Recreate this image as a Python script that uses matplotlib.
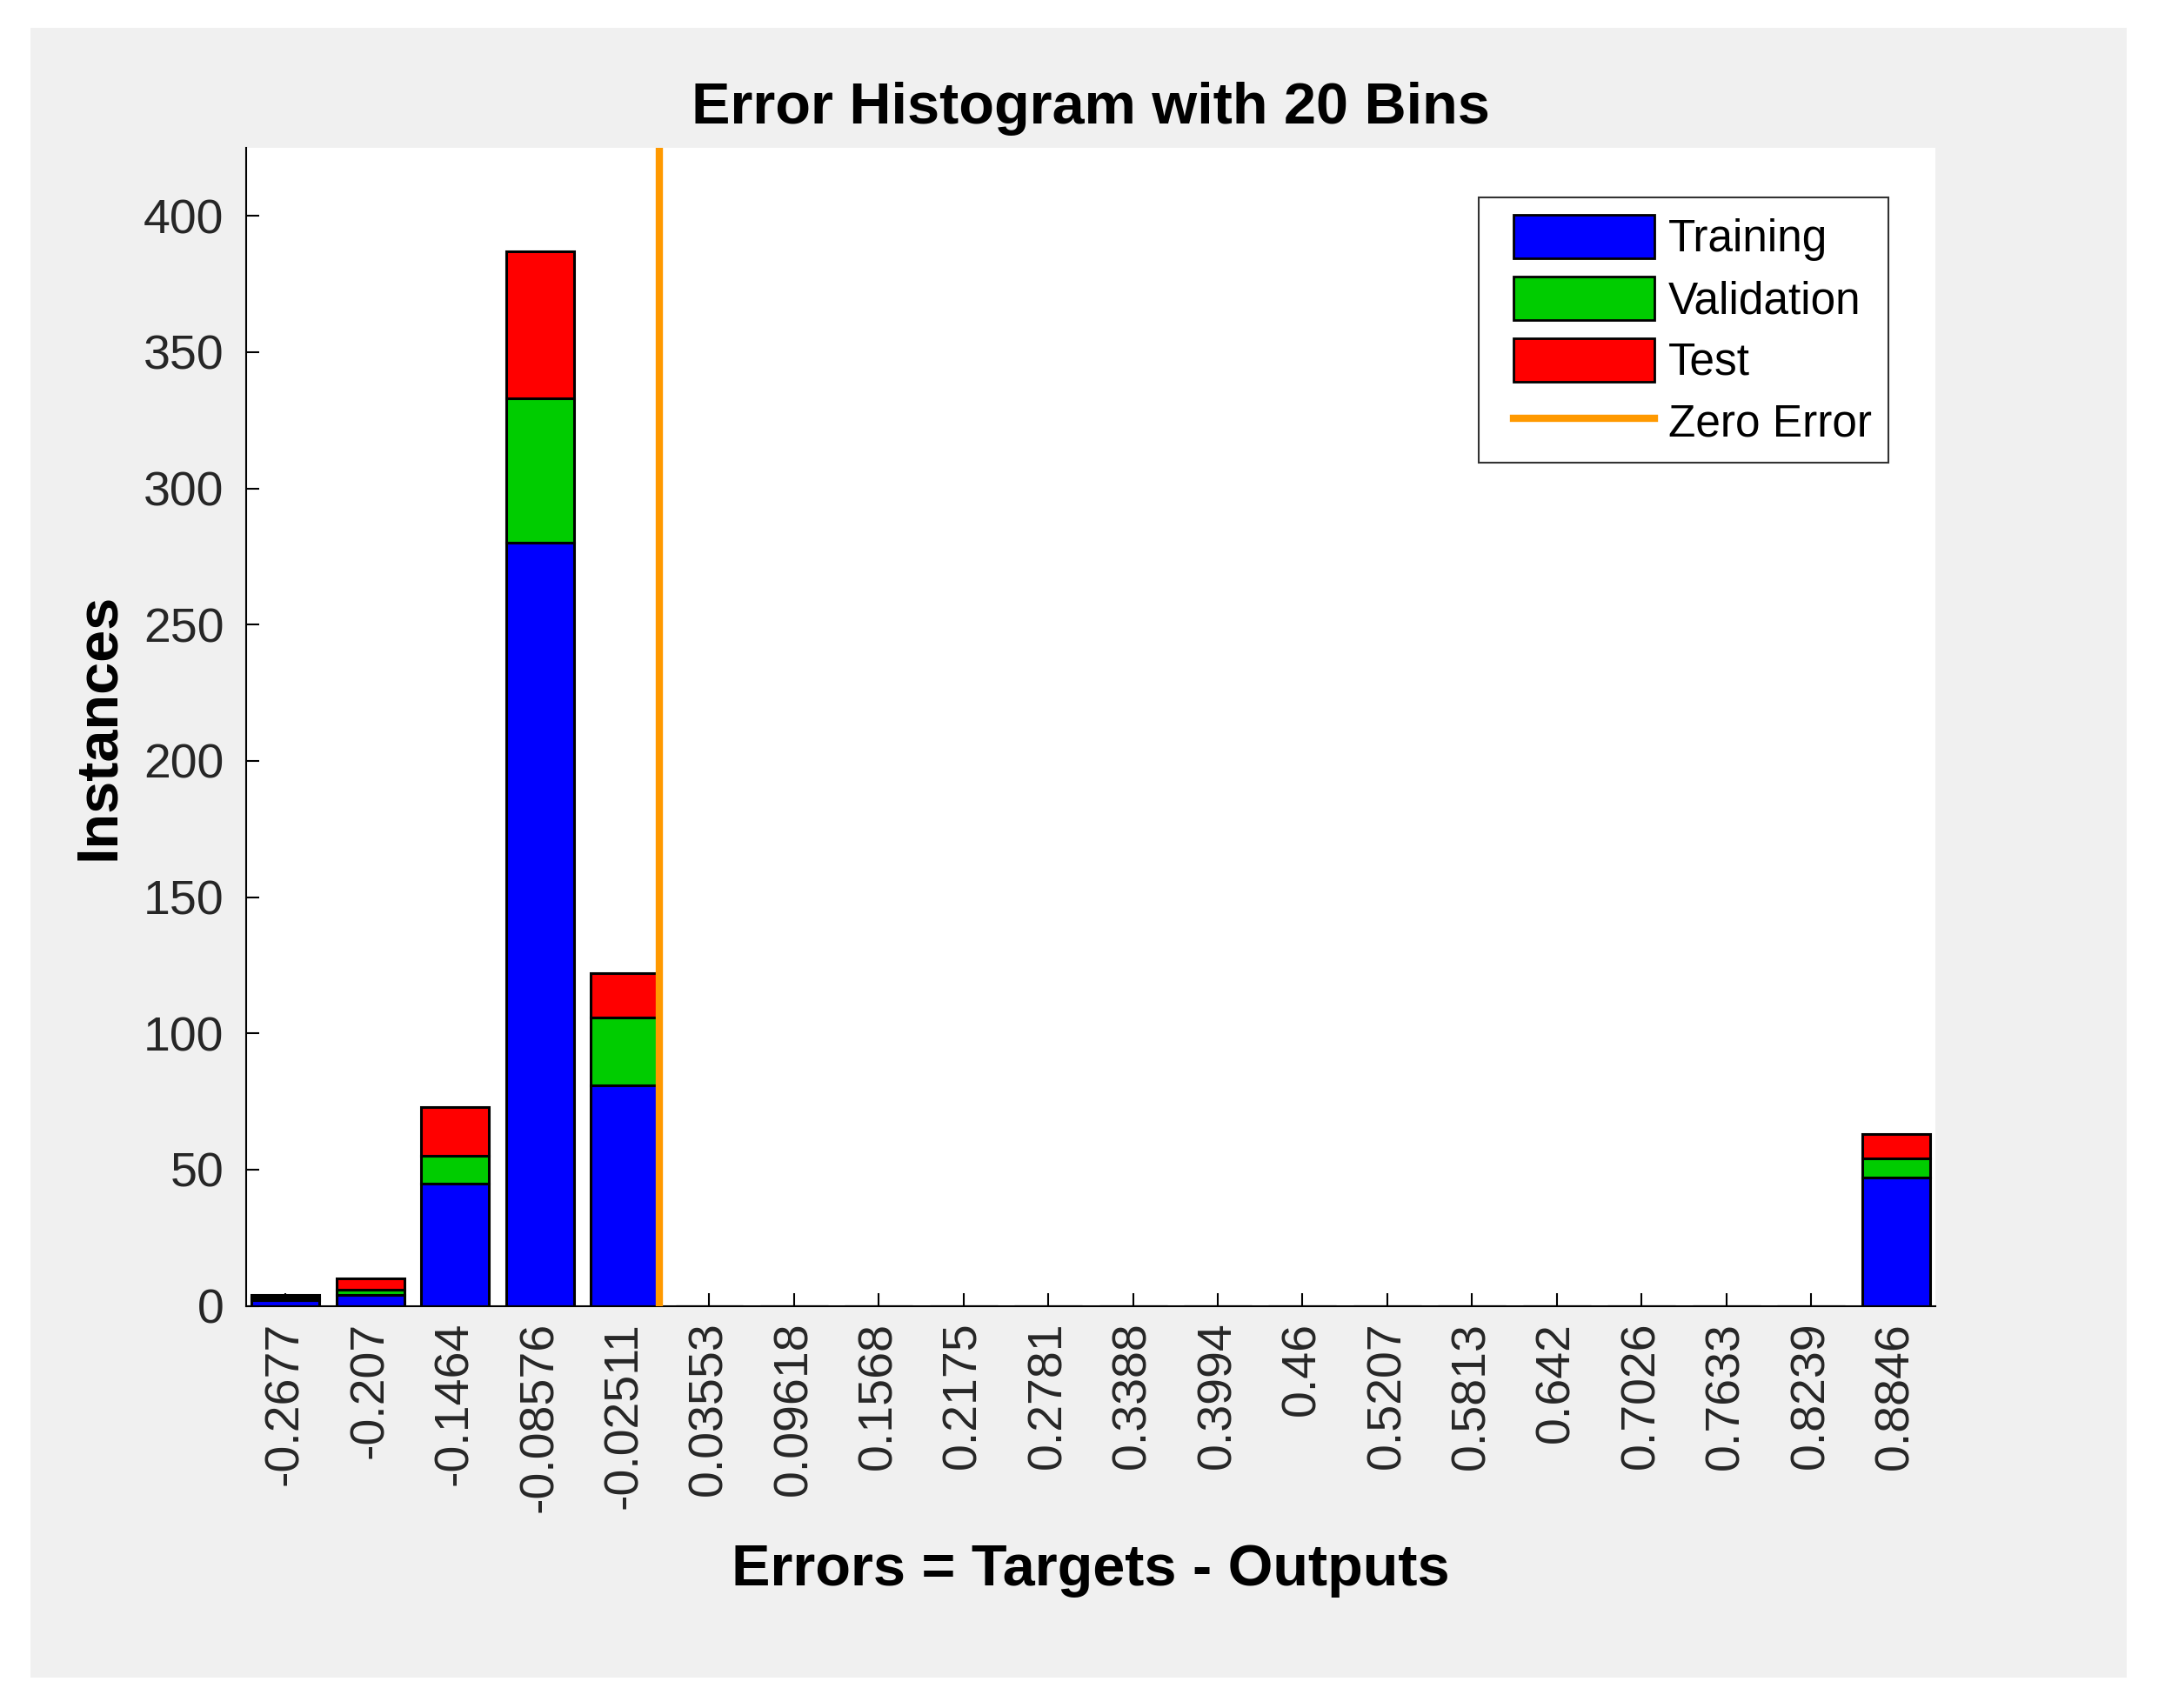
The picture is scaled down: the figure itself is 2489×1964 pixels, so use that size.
import matplotlib
matplotlib.use('Agg')
from matplotlib import pyplot as plt
from matplotlib.patches import Rectangle, Patch
from matplotlib.lines import Line2D
from matplotlib.legend_handler import HandlerPatch, HandlerLine2D
import numpy as np

plt.rcParams['font.family'] = ['Liberation Sans', 'DejaVu Sans']

# bin centres as printed on the axis
bin_labels = ['-0.2677', '-0.207', '-0.1464', '-0.08576', '-0.02511', '0.03553',
              '0.09618', '0.1568', '0.2175', '0.2781', '0.3388', '0.3994', '0.46',
              '0.5207', '0.5813', '0.642', '0.7026', '0.7633', '0.8239', '0.8846']
training = [2, 4, 45, 280, 81, 0, 0, 0, 0, 0, 0, 0, 0, 0, 0, 0, 0, 0, 0, 47]
validation = [1, 2, 10, 53, 25, 0, 0, 0, 0, 0, 0, 0, 0, 0, 0, 0, 0, 0, 0, 7]
test = [1, 4, 18, 54, 16, 0, 0, 0, 0, 0, 0, 0, 0, 0, 0, 0, 0, 0, 0, 9]
zero_error = 0.0

centers = np.array([float(s) for s in bin_labels])
bw = (centers[-1] - centers[0]) / (len(centers) - 1)
tr = np.array(training)
va = np.array(validation)
te = np.array(test)

fig = plt.figure(figsize=(24.89, 19.64), dpi=100)
fig.patch.set_facecolor('white')
fig.add_artist(Rectangle((0.0141, 0.0178), 0.9683, 0.9659, transform=fig.transFigure,
                         facecolor='#f0f0f0', edgecolor='none', zorder=-10))

ax = fig.add_axes([0.1135, 0.2354, 0.7806, 0.6781])
ax.set_facecolor('white')

blue = (0, 0, 1)
green = (0, 0.8, 0)
red = (1, 0, 0)
orange = (1, 0.6, 0)

w = 0.8 * bw
ax.bar(centers, tr, width=w, color=blue, edgecolor='black', linewidth=2.2, zorder=2)
ax.bar(centers, va, width=w, bottom=tr, color=green, edgecolor='black', linewidth=2.2, zorder=2)
ax.bar(centers, te, width=w, bottom=tr + va, color=red, edgecolor='black', linewidth=2.2, zorder=2)
ax.axvline(zero_error, color=orange, linewidth=6, zorder=3)

ax.set_xlim(centers[0] - 0.47 * bw, centers[-1] + 0.47 * bw)
ax.set_ylim(0, 425)
ax.set_yticks(np.arange(0, 401, 50))
ax.set_xticks(centers)
ax.set_xticklabels(bin_labels, rotation=90)

ax.spines['top'].set_visible(False)
ax.spines['right'].set_visible(False)
for s in ['left', 'bottom']:
    ax.spines[s].set_linewidth(1.5)
ax.tick_params(axis='both', direction='in', length=11, width=1.5, labelsize=40,
               labelcolor='#262626')
ax.tick_params(axis='x', pad=13)
ax.tick_params(axis='y', pad=18)

ax.set_title('Error Histogram with 20 Bins', fontsize=48, fontweight='bold', pad=20)
ax.set_xlabel('Errors = Targets - Outputs', fontsize=48, fontweight='bold', va='top')
ax.xaxis.set_label_coords(0.5, -0.205)
ax.set_ylabel('Instances', fontsize=48, fontweight='bold')
ax.yaxis.set_label_coords(-0.071, 0.5)

handles = [Patch(facecolor=blue, edgecolor='black', linewidth=2),
           Patch(facecolor=green, edgecolor='black', linewidth=2),
           Patch(facecolor=red, edgecolor='black', linewidth=2),
           Line2D([0], [0], color=orange, linewidth=6)]
leg = ax.legend(handles, ['Training', 'Validation', 'Test', 'Zero Error'],
                loc='upper right', bbox_to_anchor=(0.9722, 0.957), borderaxespad=0,
                fontsize=37, handlelength=3.55, handleheight=1.12, labelspacing=0.34,
                handletextpad=0.3, borderpad=0.38, fancybox=False, framealpha=1,
                edgecolor='#333333',
                handler_map={Patch: HandlerPatch(xpad=0.38),
                             Line2D: HandlerLine2D(xpad=0.38)})
leg.get_frame().set_linewidth(1.5)

fig.savefig('out.png', dpi=100)
